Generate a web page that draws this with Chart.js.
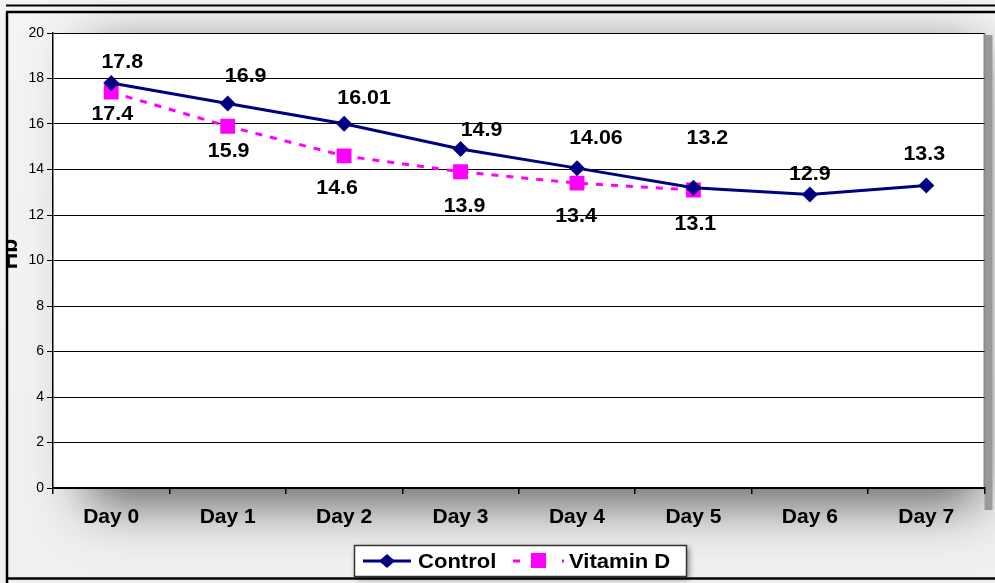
<!DOCTYPE html>
<html>
<head>
<meta charset="utf-8">
<script src="https://cdn.jsdelivr.net/npm/chart.js@4"></script>
<style>
html,body{margin:0;padding:0;background:#fff;}
#wrap{position:relative;width:995px;height:583px;}
canvas{display:block;}
</style>
</head>
<body>
<div id="wrap"><canvas id="c" width="995" height="583"></canvas></div>
<script>
// ---- data ----
const categories = ['Day 0','Day 1','Day 2','Day 3','Day 4','Day 5','Day 6','Day 7'];
const controlValues = [17.8, 16.9, 16.01, 14.9, 14.06, 13.2, 12.9, 13.3];
const vitaminDValues = [17.4, 15.9, 14.6, 13.9, 13.4, 13.1, null, null];
const controlLabels = ['17.8','16.9','16.01','14.9','14.06','13.2','12.9','13.3'];
const vitaminDLabels = ['17.4','15.9','14.6','13.9','13.4','13.1'];
const yTicks = [0,2,4,6,8,10,12,14,16,18,20];
const seriesNames = ['Control','Vitamin D'];
const yTitle = 'Hb';

// label offsets (style only)
const labelOffsets = [
  [[11,-21],[18,-27],[20,-25],[21,-19],[19,-30],[14,-49],[0,-20],[-2,-31]],
  [[1,22],[1,25],[-7,33],[4,35],[-1,33],[2,35]]
];
const labelTexts = [controlLabels, vitaminDLabels];
const FONT = '"Liberation Sans", Arial, sans-serif';

const bgPlugin = {
  id:'bg',
  beforeDraw(chart){
    const ctx = chart.ctx, a = chart.chartArea;
    ctx.save();
    const g = ctx.createLinearGradient(0,0,0,583);
    g.addColorStop(0,'#f4f4f4');
    g.addColorStop(1,'#f0f0f0');
    ctx.fillStyle = g;
    ctx.fillRect(0,0,995,583);
    ctx.shadowColor = 'rgba(0,0,0,0.6)';
    ctx.shadowBlur = 50;
    ctx.shadowOffsetX = 4;
    ctx.shadowOffsetY = 16;
    ctx.fillStyle = '#ffffff';
    ctx.fillRect(a.left+30, a.top, a.right-a.left-40, a.bottom-a.top);
    ctx.restore();
    ctx.save();
    ctx.fillStyle = '#9a9a9a';
    ctx.fillRect(a.right, a.top+2, 8, a.bottom - a.top + 20);
    ctx.fillStyle = '#ffffff';
    ctx.fillRect(a.left, a.top, a.right-a.left, a.bottom-a.top);
    ctx.strokeStyle = '#8c8c8c';
    ctx.lineWidth = 2;
    ctx.beginPath();
    ctx.moveTo(a.right, a.top); ctx.lineTo(a.right, a.bottom);
    ctx.stroke();
    ctx.restore();
  },
  afterDraw(chart){
    const ctx = chart.ctx;
    ctx.save();
    ctx.strokeStyle = '#000';
    ctx.lineWidth = 2;
    ctx.beginPath();
    ctx.moveTo(6,5.5); ctx.lineTo(995,5.5);
    ctx.stroke();
    ctx.lineWidth = 2.5;
    ctx.beginPath();
    ctx.moveTo(6,12); ctx.lineTo(995,12);
    ctx.moveTo(7,12); ctx.lineTo(7,583);
    ctx.moveTo(6,578.5); ctx.lineTo(995,578.5);
    ctx.stroke();
    ctx.beginPath();
    ctx.rect(8,0,40,583);
    ctx.clip();
    ctx.translate(11,254);
    ctx.rotate(-Math.PI/2);
    ctx.fillStyle = '#000';
    ctx.font = 'bold 23px ' + FONT;
    ctx.textAlign = 'center';
    ctx.textBaseline = 'middle';
    ctx.fillText(yTitle,0,0);
    ctx.restore();

    // legend
    ctx.save();
    const lx = 354, ly = 545, lw = 332, lh = 31;
    ctx.shadowColor = 'rgba(0,0,0,0.45)';
    ctx.shadowBlur = 6;
    ctx.shadowOffsetX = 3;
    ctx.shadowOffsetY = 3;
    ctx.fillStyle = '#fff';
    ctx.fillRect(lx,ly,lw,lh);
    ctx.restore();
    ctx.save();
    ctx.strokeStyle = '#333';
    ctx.lineWidth = 1.5;
    ctx.strokeRect(lx+0.5,ly+0.5,lw,lh);
    const cy = ly + 16;
    ctx.strokeStyle = '#000080';
    ctx.lineWidth = 3;
    ctx.beginPath(); ctx.moveTo(363,cy); ctx.lineTo(411,cy); ctx.stroke();
    ctx.fillStyle = '#000080';
    ctx.beginPath();
    ctx.moveTo(387-8,cy); ctx.lineTo(387,cy-7); ctx.lineTo(387+8,cy); ctx.lineTo(387,cy+7); ctx.closePath(); ctx.fill();
    ctx.fillStyle = '#ff00ff';
    ctx.fillRect(513,cy-1.5,7,3);
    ctx.fillRect(531,cy-8,15,15);
    ctx.fillRect(562,cy-1.5,2,3);
    ctx.fillStyle = '#000';
    ctx.font = 'bold 21px ' + FONT;
    ctx.textBaseline = 'middle';
    ctx.textAlign = 'left';
    ctx.save(); ctx.translate(418, cy+1); ctx.scale(1.05,1); ctx.fillText(seriesNames[0], 0, 0); ctx.restore();
    ctx.save(); ctx.translate(569, cy+1); ctx.scale(1.05,1); ctx.fillText(seriesNames[1], 0, 0); ctx.restore();
    ctx.restore();
  },
  afterDatasetsDraw(chart){
    const ctx = chart.ctx;
    ctx.save();
    ctx.fillStyle = '#000';
    ctx.font = 'bold 20px ' + FONT;
    ctx.textAlign = 'center';
    ctx.textBaseline = 'middle';
    chart.data.datasets.forEach((ds, di) => {
      const meta = chart.getDatasetMeta(di);
      meta.data.forEach((pt, i) => {
        if (ds.data[i] == null) return;
        const off = labelOffsets[di][i];
        ctx.save();
        ctx.translate(pt.x + off[0], pt.y + off[1]);
        ctx.scale(1.07,1);
        ctx.fillText(labelTexts[di][i], 0, 0);
        ctx.restore();
      });
    });
    ctx.restore();
  }
};

new Chart(document.getElementById('c'), {
  type:'line',
  data:{
    labels: categories,
    datasets:[
      {
        label: seriesNames[0],
        data: controlValues,
        borderColor:'#000080',
        backgroundColor:'#000080',
        borderWidth:3,
        pointStyle:'rectRot',
        pointRadius:8,
        pointHoverRadius:8,
        pointBorderWidth:0,
        tension:0,
        order:1
      },
      {
        label: seriesNames[1],
        data: vitaminDValues,
        borderColor:'#ff00ff',
        backgroundColor:'#ff00ff',
        borderWidth:3,
        borderDash:[7,8],
        pointStyle:'rect',
        pointRadius:10.5,
        pointHoverRadius:10.5,
        pointBorderWidth:0,
        tension:0,
        spanGaps:false,
        order:2
      }
    ]
  },
  options:{
    responsive:false,
    animation:false,
    devicePixelRatio:1,
    layout:{padding:{left:8,top:33,right:8,bottom:35}},
    plugins:{legend:{display:false},tooltip:{enabled:false}},
    scales:{
      x:{
        offset:true,
        grid:{offset:true,drawOnChartArea:false,drawTicks:true,tickLength:6,color:'#000',lineWidth:1.5},
        border:{display:true,color:'#000',width:1.5},
        ticks:{color:'#000',font:{family:FONT,size:21,weight:'bold'},padding:11},
        afterFit(s){ s.height = 60; }
      },
      y:{
        min:0,max:20,
        afterBuildTicks(s){ s.ticks = yTicks.map(v=>({value:v})); },
        grid:{color:'#000',lineWidth:1,tickLength:6,drawTicks:true},
        border:{display:true,color:'#000',width:1.5},
        ticks:{color:'#000',font:{family:FONT,size:14},padding:3},
        afterFit(s){ s.width = 45; }
      }
    }
  },
  plugins:[bgPlugin]
});
</script>
</body>
</html>
